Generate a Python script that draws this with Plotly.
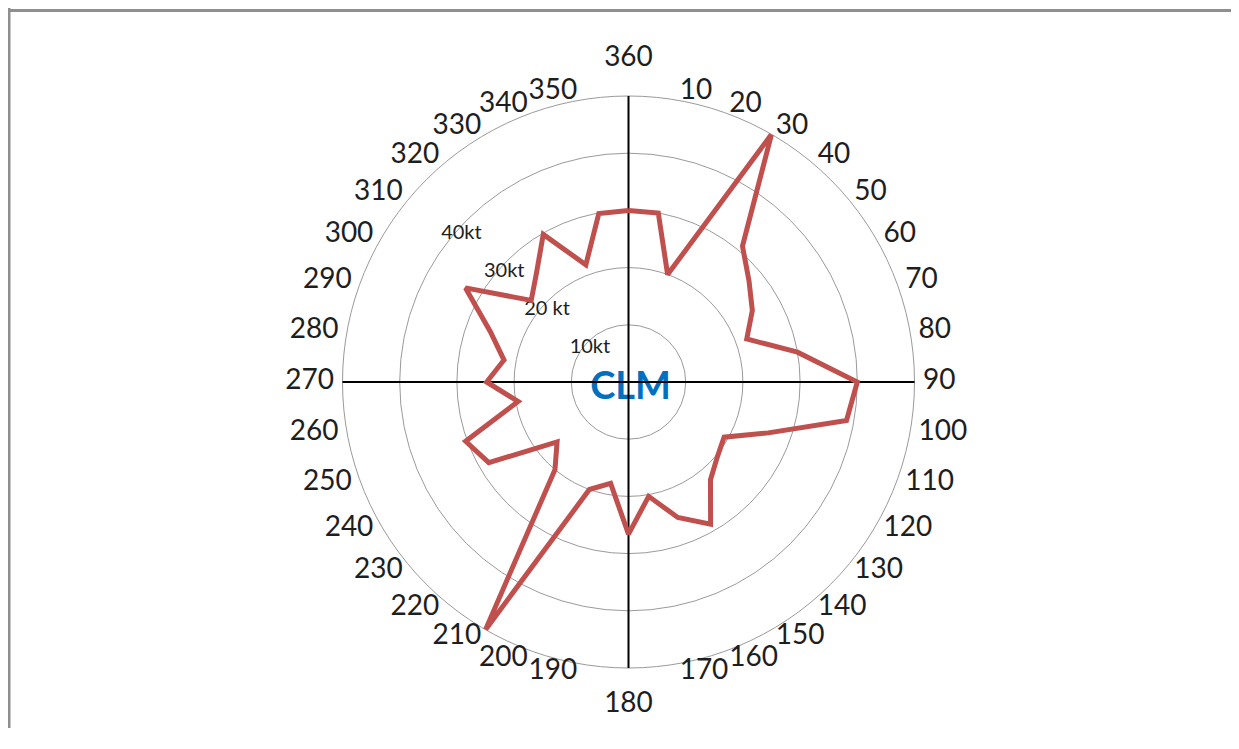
import plotly.graph_objects as go

# ---- data ----
directions = [360, 10, 20, 30, 40, 50, 60, 70, 80, 90, 100, 110,
              120, 130, 140, 150, 160, 170, 180, 190, 200, 210, 220, 230,
              240, 250, 260, 270, 280, 290, 300, 310, 320, 330, 340, 350]
speeds_kt = [30.0, 30.0, 20.0, 50.0, 31.0, 27.5, 25.0, 22.0, 30.0, 40.0, 38.7, 26.0,
             19.3, 20.3, 22.3, 28.7, 25.2, 20.3, 26.6, 18.0, 20.0, 50.0, 20.0, 16.3,
             28.2, 30.3, 19.6, 24.8, 22.1, 25.7, 32.9, 22.2, 25.0, 29.8, 21.8, 29.9]
ring_values = [10, 20, 30, 40]
ring_labels = ["10kt", "20 kt", "30kt", "40kt"]
angle_tick_vals = [0, 10, 20, 30, 40, 50, 60, 70, 80, 90, 100, 110,
                   120, 130, 140, 150, 160, 170, 180, 190, 200, 210, 220, 230,
                   240, 250, 260, 270, 280, 290, 300, 310, 320, 330, 340, 350]
angle_tick_text = ["360", "10", "20", "30", "40", "50", "60", "70", "80", "90", "100", "110",
                   "120", "130", "140", "150", "160", "170", "180", "190", "200", "210", "220", "230",
                   "240", "250", "260", "270", "280", "290", "300", "310", "320", "330", "340", "350"]
cross_vals = [0, 90, 180, 270]
center_label = "CLM"
r_max = 50

# ---- figure geometry (page body adds an 8px margin) ----
W, H = 1231, 720
cx, cy, R = 620.5, 374.0, 286.0
LABEL_SCALE = 1.2                     # label layer: same scale, larger extent


def domain(radius_px):
    return (dict(x=[(cx - radius_px) / W, (cx + radius_px) / W],
                 y=[(H - cy - radius_px) / H, (H - cy + radius_px) / H]))


FONT = "Lato"
TXT = "#1e1e1e"
GRID = "#9a9a9a"
SIDE_LABEL_R = r_max * 1.03     # direction labels beside the outer ring
POLE_LABEL_R = r_max * 1.08     # 360 / 180 labels above / below the ring
RING_LABEL_BEARING = 311.5
RING_LABEL_INSET = 1.0

fig = go.Figure()

theta_closed = directions + directions[:1]
r_closed = speeds_kt + speeds_kt[:1]

# direction labels (beside the ring, poles above/below)
side_t, side_txt, side_pos, pole_t, pole_txt, pole_pos = [], [], [], [], [], []
for t, s in zip(angle_tick_vals, angle_tick_text):
    if t % 180 == 0:
        pole_t.append(t); pole_txt.append(s)
        pole_pos.append("top center" if t == 0 else "bottom center")
    else:
        side_t.append(t); side_txt.append(s)
        side_pos.append("middle right" if t < 180 else "middle left")

fig.add_trace(go.Scatterpolar(
    r=[SIDE_LABEL_R] * len(side_t), theta=side_t, mode="text", text=side_txt,
    textposition=side_pos, textfont=dict(family=FONT, size=28, color=TXT),
    cliponaxis=False, subplot="polar3", hoverinfo="skip", showlegend=False))
fig.add_trace(go.Scatterpolar(
    r=[POLE_LABEL_R] * len(pole_t), theta=pole_t, mode="text", text=pole_txt,
    textposition=pole_pos, textfont=dict(family=FONT, size=28, color=TXT),
    cliponaxis=False, subplot="polar3", hoverinfo="skip", showlegend=False))

# centre label and ring labels
fig.add_trace(go.Scatterpolar(
    r=[1.4], theta=[165], mode="text", text=[center_label],
    textfont=dict(family=FONT, size=38, color="#0070C0", weight="bold"),
    textposition="middle center", subplot="polar", hoverinfo="skip", showlegend=False))
fig.add_trace(go.Scatterpolar(
    r=[v - RING_LABEL_INSET for v in ring_values],
    theta=[RING_LABEL_BEARING] * len(ring_values),
    mode="text", text=ring_labels,
    textfont=dict(family=FONT, size=20, color=TXT),
    textposition="middle center", subplot="polar", hoverinfo="skip", showlegend=False))

# top subplot: black cross + data line
fig.add_trace(go.Scatterpolar(
    r=r_closed, theta=theta_closed, mode="lines",
    line=dict(color="#C0504D", width=5), subplot="polar2",
    hoverinfo="skip", showlegend=False))

hidden_radial = dict(showticklabels=False, ticks="", showline=False, showgrid=False)

fig.update_layout(
    width=W, height=H,
    margin=dict(l=0, r=0, t=0, b=0),
    paper_bgcolor="white", plot_bgcolor="white",
    showlegend=False,
    polar=dict(
        domain=domain(R),
        bgcolor="white",
        radialaxis=dict(range=[0, r_max], tickmode="array", tickvals=ring_values,
                        showticklabels=False, ticks="", showline=False,
                        showgrid=True, gridcolor=GRID, gridwidth=1),
        angularaxis=dict(direction="clockwise", rotation=90, tickmode="array",
                         tickvals=angle_tick_vals, showticklabels=False, ticks="",
                         showgrid=False, showline=True, linecolor=GRID, linewidth=1),
    ),
    polar2=dict(
        domain=domain(R),
        bgcolor="rgba(0,0,0,0)",
        radialaxis=dict(range=[0, r_max], **hidden_radial),
        angularaxis=dict(direction="clockwise", rotation=90, tickmode="array",
                         tickvals=cross_vals, showticklabels=False, ticks="",
                         showline=False, showgrid=True, gridcolor="black", gridwidth=2),
    ),
    polar3=dict(
        domain=domain(R * LABEL_SCALE),
        bgcolor="rgba(0,0,0,0)",
        radialaxis=dict(range=[0, r_max * LABEL_SCALE], **hidden_radial),
        angularaxis=dict(direction="clockwise", rotation=90, showticklabels=False,
                         ticks="", showline=False, showgrid=False),
    ),
    shapes=[
        dict(type="line", xref="paper", yref="paper", x0=1.0 / W, x1=1.0 / W, y0=0, y1=1,
             line=dict(color="#8f8f8f", width=3)),
        dict(type="line", xref="paper", yref="paper", x0=0, x1=1, y0=1 - 2.5 / H, y1=1 - 2.5 / H,
             line=dict(color="#8f8f8f", width=3)),
    ],
)

fig.write_html("out.html")
